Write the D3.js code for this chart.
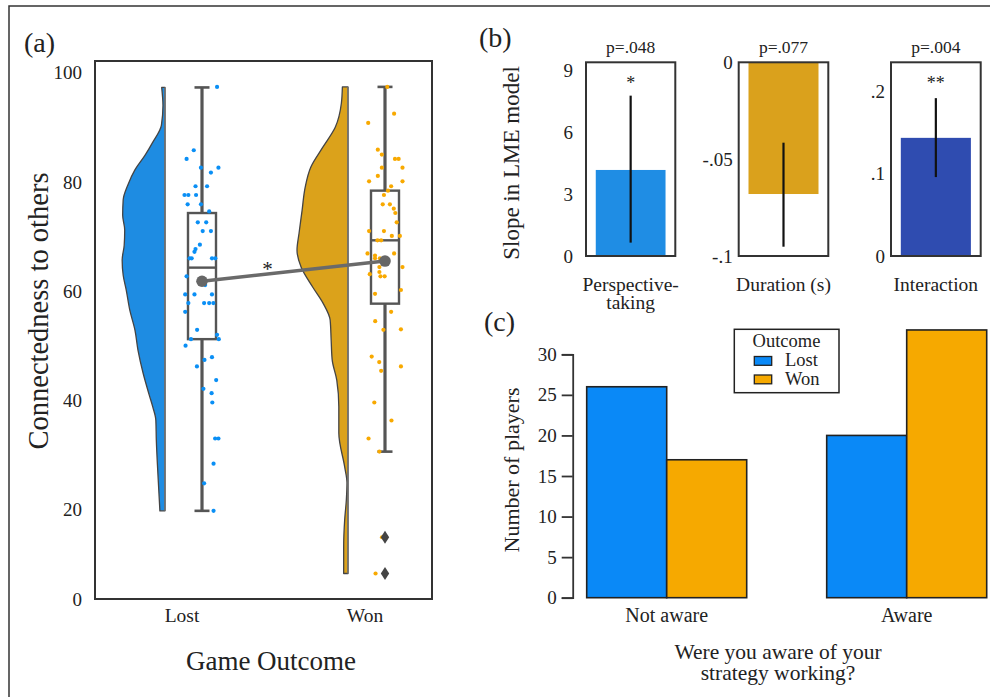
<!DOCTYPE html>
<html><head><meta charset="utf-8">
<script src="https://cdn.jsdelivr.net/npm/d3@7"></script>
<style>
html,body{margin:0;padding:0;background:#fff;}
</style></head>
<body><svg id="c" width="990" height="697"></svg>
<script>
// ---------------- DATA ----------------
const outcomes = ["Lost", "Won"];
// panel (a) jittered points: value, and horizontal jitter (-1..1)
const lostValues = [97.4,85.8,84.2,82.6,82.6,81.7,79.2,79.2,77.6,77.6,77.6,75.9,75.9,74.6,72.6,72.6,71.0,71.0,68.5,67.7,67.2,66.0,66.0,66.0,66.0,62.7,61.1,59.4,59.4,59.4,57.8,57.8,57.8,57.8,56.2,52.9,52.0,51.2,51.2,50.0,47.9,47.4,46.2,43.7,42.1,41.3,39.6,33.0,33.0,28.4,24.8,19.7];
const lostJitter = [0.86,-0.47,-0.88,-0.06,0.94,0.51,-0.37,0.29,-1.0,-0.78,-0.34,-0.82,-0.06,0.41,-0.24,0.24,0.04,0.51,-0.12,-0.37,-0.43,-0.71,-0.59,0.57,0.76,-0.88,0.18,-0.96,-0.43,0.57,-0.78,0.12,0.41,0.65,-0.96,-0.28,0.86,0.96,-0.63,-0.94,0.57,0.14,-0.29,0.81,0.08,0.55,0.59,0.75,0.94,0.66,0.12,0.66];
const wonValues = [97.4,92.5,90.8,85.9,85.0,84.2,84.2,82.6,82.6,81.1,80.1,80.1,79.2,78.4,77.6,75.9,75.9,75.1,74.3,72.6,71.0,71.0,70.1,70.1,69.3,69.3,66.9,66.5,66.0,66.0,66.9,64.4,64.4,63.5,63.1,62.7,62.7,60.2,59.5,56.2,54.5,52.9,53.0,48.0,47.0,46.2,45.4,39.6,36.3,33.0,30.6,13.8,5.7];
const wonJitter = [0.13,0.52,-0.96,-0.41,-0.18,0.57,0.78,-0.18,1.0,-0.41,-0.91,1.0,0.35,0.17,-0.06,-0.13,0.28,0.5,0.59,0.67,-0.91,-0.06,0.39,0.85,-0.43,-0.22,-1.0,-0.57,-0.57,-0.29,0.52,-0.32,1.0,-0.32,-0.87,-0.26,-0.02,0.91,-0.57,0.35,-0.56,-0.09,0.91,-0.76,-0.33,0.91,-0.22,-0.61,0.37,-0.94,-0.32,-0.17,-0.54];
// box statistics [whiskerLow, q1, median, q3, whiskerHigh]
const lostBox = [19.7, 51.2, 64.3, 74.3, 97.3];
const wonBox = [30.6, 57.7, 69.3, 78.4, 97.4];
const groupMeans = [61.8, 65.5];
const wonOutliers = [13.8, 5.7];
// half-violin densities: value and relative density
const lostViolinValues = [97.3,94.0,90.4,87.1,84.9,82.2,79.4,76.7,73.9,71.2,68.4,65.7,62.9,60.2,56.5,52.9,49.2,45.0,41.0,38.8,36.4,32.7,26.7,19.7];
const lostViolinDensity = [0.065,0.04,0.07,0.25,0.39,0.59,0.73,0.82,0.83,0.79,0.80,0.84,0.82,0.76,0.69,0.59,0.53,0.43,0.31,0.24,0.18,0.17,0.14,0.10];
const wonViolinValues = [97.4,94.4,90.0,86.4,82.7,79.0,74.8,70.6,67.5,64.4,60.7,57.8,54.7,51.0,47.4,43.7,38.8,34.0,27.8,24.9,21.7,17.7,11.6,5.7];
const wonViolinDensity = [0.11,0.13,0.25,0.49,0.73,0.84,0.90,0.96,1.0,0.92,0.69,0.49,0.35,0.33,0.31,0.22,0.18,0.18,0.065,0.02,0.033,0.065,0.085,0.085];
const aTicks = [0, 20, 40, 60, 80, 100];

// panel (b)
const predictors = ["Perspective-\ntaking", "Duration (s)", "Interaction"];
const slopes = [4.18, -0.068, 0.1437];
const ciLow = [0.65, -0.0952, 0.096];
const ciHigh = [7.79, -0.0415, 0.192];
const pLabels = ["p=.048", "p=.077", "p=.004"];
const stars = ["*", "", "**"];
const bTicks = [[0, 3, 6, 9], [-0.1, -0.05, 0], [0, 0.1, 0.2]];
const bTickLabels = [["0", "3", "6", "9"], ["-.1", "-.05", "0"], ["0", ".1", ".2"]];
const bDomains = [[0, 9.41], [-0.1, 0], [0, 0.2356]];

// panel (c)
const awareness = ["Not aware", "Aware"];
const lostCounts = [26, 20];
const wonCounts = [17, 33];
const cTicks = [0, 5, 10, 15, 20, 25, 30];

// ---------------- DRAW ----------------
const FONT = "Liberation Serif";
const ink = "#222";
const svg = d3.select("#c");
function txt(g, size) {
  return g.append("text").attr("font-family", FONT).attr("font-size", size).attr("fill", ink);
}

// figure frame (top + left visible)
svg.append("rect").attr("x", 9).attr("y", 6).attr("width", 1100).attr("height", 800)
  .attr("fill", "none").attr("stroke", "#333").attr("stroke-width", 1.5);

// ===== Panel (a) =====
const A = {l: 95, r: 432, t: 61, b: 599};
const ya = d3.scaleLinear().domain([0, 20, 100]).range([599, 509.5, 72.7]);
const xa = d3.scalePoint().domain(outcomes).range([182, 365]);
const boxOff = 20, violOff = -17;
const jit = d3.scaleLinear().domain([-1, 1]).range([-17.5, 17.5]);
const vw = d3.scaleLinear().domain([0, 1]).range([0, 51]);
const gA = svg.append("g");

txt(svg, 28).attr("x", 24).attr("y", 52).text("(a)");

// violins
const violins = [
  {k: "Lost", v: lostViolinValues, d: lostViolinDensity, fill: "#1e8ce2"},
  {k: "Won", v: wonViolinValues, d: wonViolinDensity, fill: "#dba21b"}
];
violins.forEach(o => {
  const edge = xa(o.k) + violOff;
  const pts = o.v.map((v, i) => [v, o.d[i]]);
  const area = d3.area().y(p => ya(p[0])).x0(p => edge - vw(p[1])).x1(edge).curve(d3.curveMonotoneY);
  gA.append("path").attr("d", area(pts)).attr("fill", o.fill)
    .attr("stroke", "#444").attr("stroke-width", 1.3).attr("stroke-linejoin", "round");
  gA.append("line").attr("x1", edge).attr("x2", edge).attr("y1", ya(o.v[0])).attr("y2", ya(o.v[o.v.length - 1]))
    .attr("stroke", "#777").attr("stroke-width", 1.5);
});

// boxes
const boxes = [{k: "Lost", s: lostBox}, {k: "Won", s: wonBox}];
const boxW = 28, capW = 15, boxCol = "#555";
boxes.forEach(o => {
  const cx = xa(o.k) + boxOff;
  const s = o.s;
  gA.append("line").attr("x1", cx).attr("x2", cx).attr("y1", ya(s[0])).attr("y2", ya(s[1]))
    .attr("stroke", boxCol).attr("stroke-width", 3.2);
  gA.append("line").attr("x1", cx).attr("x2", cx).attr("y1", ya(s[3])).attr("y2", ya(s[4]))
    .attr("stroke", boxCol).attr("stroke-width", 3.2);
  [s[0], s[4]].forEach(v => gA.append("line").attr("x1", cx - capW / 2).attr("x2", cx + capW / 2)
    .attr("y1", ya(v)).attr("y2", ya(v)).attr("stroke", boxCol).attr("stroke-width", 2.6));
  gA.append("rect").attr("x", cx - boxW / 2).attr("y", ya(s[3])).attr("width", boxW)
    .attr("height", ya(s[1]) - ya(s[3])).attr("fill", "none").attr("stroke", boxCol).attr("stroke-width", 2.4);
  gA.append("line").attr("x1", cx - boxW / 2).attr("x2", cx + boxW / 2).attr("y1", ya(s[2])).attr("y2", ya(s[2]))
    .attr("stroke", boxCol).attr("stroke-width", 2.4);
});

// points
const pts = [
  {k: "Lost", v: lostValues, j: lostJitter, c: "#0a8ff5"},
  {k: "Won", v: wonValues, j: wonJitter, c: "#f8a900"}
];
pts.forEach(o => {
  const cx = xa(o.k) + boxOff;
  gA.selectAll(null).data(o.v).enter().append("circle")
    .attr("cx", (d, i) => cx + jit(o.j[i])).attr("cy", d => ya(d)).attr("r", 2.1).attr("fill", o.c);
});

// outliers
const wcx = xa("Won") + boxOff;
gA.selectAll(null).data(wonOutliers).enter().append("path")
  .attr("d", d => `M${wcx},${ya(d) - 6.5}L${wcx + 4.2},${ya(d)}L${wcx},${ya(d) + 6.5}L${wcx - 4.2},${ya(d)}Z`)
  .attr("fill", "#444");

// mean line
const meanPts = outcomes.map((k, i) => [xa(k) + boxOff, ya(groupMeans[i])]);
gA.append("path").attr("d", d3.line()(meanPts)).attr("stroke", "#6a6a6a").attr("stroke-width", 3.5).attr("fill", "none");
gA.selectAll(null).data(meanPts).enter().append("circle").attr("cx", d => d[0]).attr("cy", d => d[1])
  .attr("r", 5.8).attr("fill", "#666");
txt(gA, 21).attr("x", (meanPts[0][0] + meanPts[1][0]) / 2 - 26).attr("y", 276)
  .attr("text-anchor", "middle").text("*");

// frame + ticks
gA.append("rect").attr("x", A.l).attr("y", A.t).attr("width", A.r - A.l).attr("height", A.b - A.t)
  .attr("fill", "none").attr("stroke", "#333").attr("stroke-width", 2);
aTicks.forEach(d => txt(gA, 19).attr("x", 82).attr("y", ya(d)).attr("dy", "0.35em")
  .attr("text-anchor", "end").text(d));
outcomes.forEach(d => txt(gA, 19.5).attr("x", xa(d)).attr("y", 622).attr("text-anchor", "middle").text(d));
txt(gA, 27).attr("x", 271).attr("y", 670).attr("text-anchor", "middle").text("Game Outcome");
txt(gA, 28.5).attr("transform", "translate(48,311) rotate(-90)").attr("text-anchor", "middle")
  .text("Connectedness to others");

// ===== Panel (b) =====
txt(svg, 28).attr("x", 479).attr("y", 47).text("(b)");
txt(svg, 23).attr("transform", "translate(519,163) rotate(-90)").attr("text-anchor", "middle")
  .text("Slope in LME model");
const bAxes = [{l: 586, r: 675.3}, {l: 738.7, r: 828.3}, {l: 891, r: 980.7}];
const bColors = ["#1f8de4", "#daa11c", "#2f4cb0"];
const bTop = 62.3, bBot = 256;
predictors.forEach((p, i) => {
  const g = svg.append("g");
  const ax = bAxes[i];
  const y = d3.scaleLinear().domain(bDomains[i]).range([bBot, bTop]);
  const x = d3.scaleBand().domain([p]).range([ax.l, ax.r]).paddingInner(0).paddingOuter(0.14);
  const base = y(0), top = y(slopes[i]);
  g.append("rect").attr("x", x(p)).attr("width", x.bandwidth())
    .attr("y", Math.min(base, top)).attr("height", Math.abs(base - top)).attr("fill", bColors[i]);
  const cx = x(p) + x.bandwidth() / 2;
  g.append("line").attr("x1", cx).attr("x2", cx).attr("y1", y(ciLow[i])).attr("y2", y(ciHigh[i]))
    .attr("stroke", "#111").attr("stroke-width", 2.2);
  g.append("rect").attr("x", ax.l).attr("y", bTop).attr("width", ax.r - ax.l).attr("height", bBot - bTop)
    .attr("fill", "none").attr("stroke", "#333").attr("stroke-width", 2);
  bTicks[i].forEach((d, k) => txt(g, 19).attr("x", ax.l - (i === 0 ? 13 : 6)).attr("y", y(d)).attr("dy", "0.35em")
    .attr("text-anchor", "end").text(bTickLabels[i][k]));
  txt(g, 17.5).attr("x", cx).attr("y", 53).attr("text-anchor", "middle").text(pLabels[i]);
  if (stars[i]) txt(g, 18).attr("x", cx).attr("y", 89).attr("text-anchor", "middle").text(stars[i]);
  p.split("\n").forEach((line, k) => txt(g, 19.5).attr("x", cx).attr("y", 291 + k * 17.5)
    .attr("text-anchor", "middle").text(line));
});

// ===== Panel (c) =====
txt(svg, 28).attr("x", 484).attr("y", 331).text("(c)");
const yc = d3.scaleLinear().domain([0, 30]).range([597.7, 354.3]);
const xc = d3.scaleBand().domain(awareness).range([546.7, 1026.7]).paddingInner(1 / 3).paddingOuter(1 / 6);
const xs = d3.scaleBand().domain(outcomes).range([0, xc.bandwidth()]);
const cColors = {Lost: "#0a89f7", Won: "#f6a900"};
const gC = svg.append("g");
awareness.forEach((a, i) => {
  const vals = {Lost: lostCounts[i], Won: wonCounts[i]};
  outcomes.forEach(o => {
    gC.append("rect").attr("x", xc(a) + xs(o)).attr("width", xs.bandwidth())
      .attr("y", yc(vals[o])).attr("height", yc(0) - yc(vals[o]))
      .attr("fill", cColors[o]).attr("stroke", "#222").attr("stroke-width", 1.6);
  });
});
const yAxC = gC.append("g").attr("transform", "translate(572.7,0)")
  .call(d3.axisLeft(yc).tickValues(cTicks).tickSize(11).tickPadding(5));
yAxC.attr("font-family", FONT);
yAxC.select(".domain").attr("stroke", "#333").attr("stroke-width", 1.8);
yAxC.selectAll(".tick line").attr("stroke", "#333").attr("stroke-width", 1.8);
yAxC.selectAll(".tick text").attr("font-size", 19).attr("font-family", FONT).attr("fill", ink);
awareness.forEach(d => txt(gC, 20).attr("x", xc(d) + xc.bandwidth() / 2)
  .attr("y", 621.5).attr("text-anchor", "middle").text(d));
txt(gC, 22).attr("transform", "translate(519,470) rotate(-90)").attr("text-anchor", "middle")
  .text("Number of players");
txt(gC, 21.5).attr("x", 778).attr("y", 659).attr("text-anchor", "middle").text("Were you aware of your");
txt(gC, 21.5).attr("x", 778).attr("y", 680).attr("text-anchor", "middle").text("strategy working?");

// legend
const lg = gC.append("g");
lg.append("rect").attr("x", 734.3).attr("y", 329.3).attr("width", 104.7).attr("height", 63.4)
  .attr("fill", "#fff").attr("stroke", "#222").attr("stroke-width", 1.5);
txt(lg, 18.5).attr("x", 786.5).attr("y", 347).attr("text-anchor", "middle").text("Outcome");
outcomes.forEach((o, i) => {
  lg.append("rect").attr("x", 754.3).attr("y", 356.5 + i * 18.5).attr("width", 17.4).attr("height", 8.8)
    .attr("fill", cColors[o]).attr("stroke", "#222").attr("stroke-width", 1.3);
  txt(lg, 18.5).attr("x", 785).attr("y", 366 + i * 18.5).text(o);
});
</script></body></html>
